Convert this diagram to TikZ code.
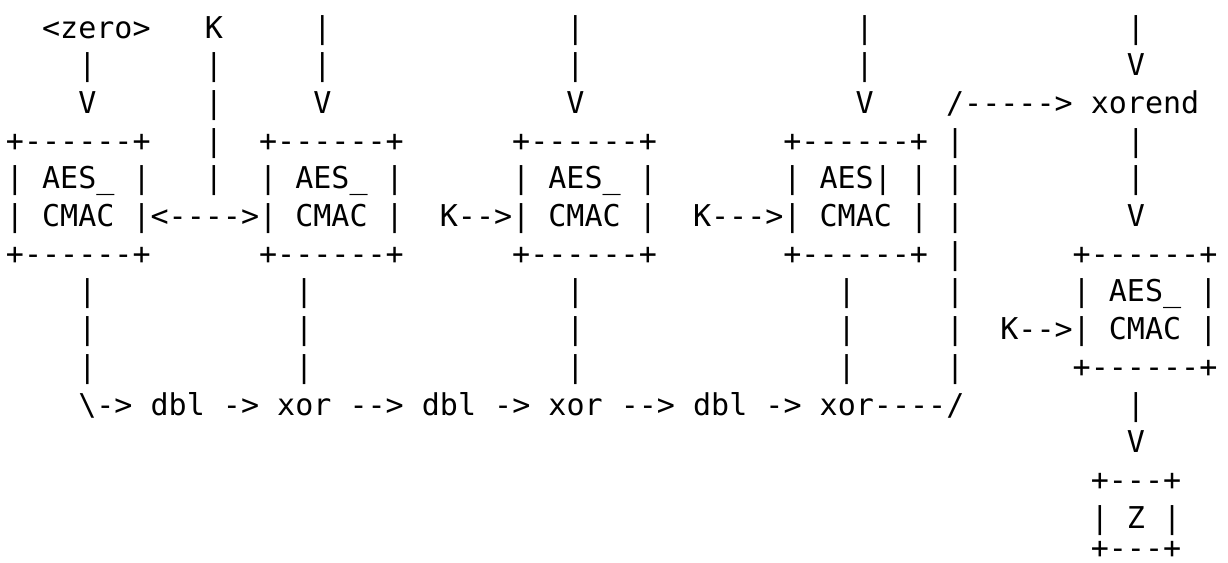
\documentclass[tikz,border=0pt]{standalone}
\usepackage{fontspec}
\setmonofont{DejaVu Sans Mono}
% one character cell: 18.08 units wide, 37.7 units tall; 1 unit = 0.5pt
\newcommand\tok[4]{\node[tok] (#1) at ({5.96+18.08*#2},{38+37.7*#3}) {#4};}
\begin{document}
\begin{tikzpicture}[x=0.5pt,y=-0.5pt,
  tok/.style={font=\ttfamily\fontsize{15.02}{18}\selectfont,
    inner sep=0pt, outer sep=0pt, anchor=base west, text=black}]
\fill[white] (0,0) rectangle (1228,563);
\useasboundingbox (0,0) rectangle (1228,563);
% row 0: inputs
\tok{zero}{2}{0}{<zero>}
\tok{key}{11}{0}{K}
\tok{inA}{17}{0}{|}
\tok{inB}{31}{0}{|}
\tok{inC}{47}{0}{|}
\tok{inD}{62}{0}{|}
% row 1
\tok{zeroA}{4}{1}{|}
\tok{keyA}{11}{1}{|}
\tok{inAa}{17}{1}{|}
\tok{inBa}{31}{1}{|}
\tok{inCa}{47}{1}{|}
\tok{inDa}{62}{1}{V}
% row 2
\tok{zeroB}{4}{2}{V}
\tok{keyB}{11}{2}{|}
\tok{inAb}{17}{2}{V}
\tok{inBb}{31}{2}{V}
\tok{inCb}{47}{2}{V}
\tok{xorend}{52}{2}{/-----> xorend}
% row 3: box tops
\tok{boxAt}{0}{3}{+------+}
\tok{keyC}{11}{3}{|}
\tok{boxBt}{14}{3}{+------+}
\tok{boxCt}{28}{3}{+------+}
\tok{boxDt}{43}{3}{+------+}
\tok{feedA}{52}{3}{|}
\tok{endA}{62}{3}{|}
% row 4
\tok{boxAa}{0}{4}{| AES\_ |}
\tok{keyD}{11}{4}{|}
\tok{boxBa}{14}{4}{| AES\_ |}
\tok{boxCa}{28}{4}{| AES\_ |}
\tok{boxDa}{43}{4}{| AES| |}
\tok{feedB}{52}{4}{|}
\tok{endB}{62}{4}{|}
% row 5
\tok{boxAB}{0}{5}{| CMAC |<---->| CMAC |}
\tok{boxCc}{24}{5}{K-->| CMAC |}
\tok{boxDc}{38}{5}{K--->| CMAC |}
\tok{feedC}{52}{5}{|}
\tok{endC}{62}{5}{V}
% row 6: box bottoms
\tok{boxAb}{0}{6}{+------+}
\tok{boxBb}{14}{6}{+------+}
\tok{boxCb}{28}{6}{+------+}
\tok{boxDb}{43}{6}{+------+}
\tok{feedD}{52}{6}{|}
\tok{boxEt}{59}{6}{+------+}
% rows 7-9: outputs down to the chain
\tok{outAa}{4}{7}{|}
\tok{outBa}{16}{7}{|}
\tok{outCa}{31}{7}{|}
\tok{outDa}{46}{7}{|}
\tok{feedE}{52}{7}{|}
\tok{boxEa}{59}{7}{| AES\_ |}
\tok{outAb}{4}{8}{|}
\tok{outBb}{16}{8}{|}
\tok{outCb}{31}{8}{|}
\tok{outDb}{46}{8}{|}
\tok{feedF}{52}{8}{|}
\tok{boxEc}{55}{8}{K-->| CMAC |}
\tok{outAc}{4}{9}{|}
\tok{outBc}{16}{9}{|}
\tok{outCc}{31}{9}{|}
\tok{outDc}{46}{9}{|}
\tok{feedG}{52}{9}{|}
\tok{boxEb}{59}{9}{+------+}
% row 10: doubling chain
\tok{chain}{4}{10}{\textbackslash-> dbl -> xor --> dbl -> xor --> dbl -> xor----/}
\tok{outE}{62}{10}{|}
% rows 11-14: result
\tok{outEa}{62}{11}{V}
\tok{zt}{60}{12}{+---+}
\tok{zm}{60}{13}{| Z |}
% last line sits a little higher so it stays inside the page
\tok{zb}{60}{13.8}{+---+}
\end{tikzpicture}
\end{document}
